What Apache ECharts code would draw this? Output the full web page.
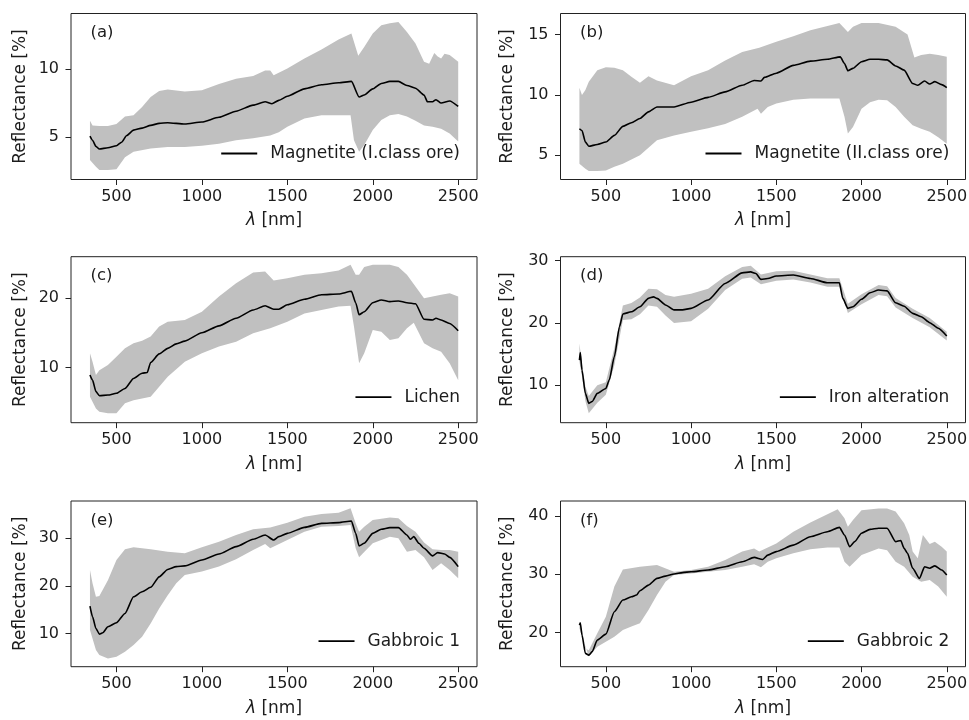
<!DOCTYPE html>
<html><head><meta charset="utf-8">
<script src="https://cdn.jsdelivr.net/npm/echarts@6/dist/echarts.min.js"></script>
<style>html,body{margin:0;padding:0;background:#fff}#c{width:969px;height:720px}</style>
</head><body><div id="c"></div>
<script>
// ---------- DATA ----------
const xTicks = [500, 1000, 1500, 2000, 2500];
const panelLetters = ['(a)', '(b)', '(c)', '(d)', '(e)', '(f)'];
const seriesNames = ['Magnetite (I.class ore)', 'Magnetite (II.class ore)', 'Lichen', 'Iron alteration', 'Gabbroic 1', 'Gabbroic 2'];
const yTicksA = [5, 10], yTicksB = [5, 10, 15], yTicksC = [10, 20], yTicksD = [10, 20, 30], yTicksE = [10, 20, 30], yTicksF = [20, 30, 40];
const yRangeA = [1.85, 14.12], yRangeB = [3.0, 16.74], yRangeC = [2.0, 26.0], yRangeD = [4.0, 30.64], yRangeE = [3.0, 37.85], yRangeF = [14.17, 42.57];
const xRange = [234, 2610];

// (a) Magnetite (I.class ore)
const wlMeanA = [345,360,380,400,450,500,530,560,600,650,700,750,800,900,1000,1100,1200,1300,1370,1410,1450,1500,1600,1700,1800,1875,1920,1950,2000,2050,2100,2150,2200,2250,2300,2320,2350,2370,2400,2450,2500];
const meanA = [5.05,4.75,4.3,4.1,4.2,4.35,4.6,5.1,5.5,5.65,5.85,6.0,6.05,5.95,6.1,6.45,6.9,7.35,7.6,7.45,7.7,8.0,8.55,8.85,9.0,9.1,7.95,8.1,8.55,8.95,9.1,9.1,8.8,8.6,8.1,7.6,7.6,7.75,7.5,7.65,7.25];
const wlUpA = [345,360,400,450,500,550,600,650,700,750,800,900,1000,1100,1200,1300,1370,1400,1420,1500,1600,1700,1800,1875,1915,1950,2000,2050,2100,2150,2200,2250,2300,2330,2360,2380,2400,2420,2450,2500];
const upA = [6.2,5.85,5.8,5.8,5.95,6.5,6.6,7.2,7.95,8.4,8.5,8.35,8.45,8.9,9.3,9.5,9.9,9.9,9.55,10.05,10.8,11.45,12.2,12.65,11.0,11.65,12.65,13.25,13.4,13.5,12.75,11.9,10.55,10.4,11.2,10.95,10.8,11.15,11.05,10.55];
const wlLoA = [345,380,400,450,500,550,600,700,800,900,1000,1100,1200,1300,1400,1450,1500,1600,1700,1800,1870,1890,1920,1950,2000,2050,2100,2150,2200,2250,2300,2350,2400,2450,2500];
const loA = [3.3,2.8,2.55,2.55,2.6,3.5,3.9,4.15,4.25,4.25,4.35,4.5,4.75,4.9,5.1,5.35,5.75,6.35,6.6,6.6,6.6,4.75,3.9,4.4,5.5,6.25,6.6,6.7,6.5,6.2,5.85,5.75,5.6,5.25,4.65];

// (b) Magnetite (II.class ore)
const wlMeanB = [345,360,380,400,450,500,550,600,650,700,750,800,900,1000,1100,1200,1300,1370,1410,1430,1500,1600,1700,1800,1875,1900,1920,1950,2000,2050,2100,2150,2200,2250,2300,2330,2370,2400,2430,2470,2500];
const meanB = [7.2,7.05,6.1,5.75,5.9,6.1,6.65,7.4,7.7,8.05,8.6,9.0,9.0,9.4,9.8,10.25,10.8,11.2,11.15,11.45,11.8,12.45,12.8,12.95,13.15,12.6,12.0,12.2,12.75,12.95,12.95,12.9,12.4,12.05,10.95,10.8,11.15,10.9,11.1,10.85,10.6];
const wlUpB = [345,360,380,400,450,500,550,600,650,700,750,800,900,1000,1100,1200,1300,1400,1500,1600,1700,1800,1870,1920,1950,2000,2100,2200,2270,2310,2350,2400,2450,2500];
const upB = [10.6,10.0,10.4,11.1,12.05,12.3,12.25,12.05,11.5,11.0,11.55,11.2,10.8,11.55,12.05,12.85,13.55,13.9,14.4,14.85,15.35,15.7,15.95,15.2,15.65,15.95,15.95,15.65,15.0,13.1,13.3,13.4,13.3,13.15];
const wlLoB = [345,380,400,450,500,550,600,700,800,900,1000,1100,1200,1300,1390,1410,1450,1500,1600,1700,1800,1870,1900,1920,1950,2000,2050,2100,2150,2200,2250,2300,2350,2400,2450,2500];
const loB = [4.3,3.9,3.7,3.7,3.75,4.05,4.3,5.0,6.25,6.65,6.95,7.25,7.6,8.2,8.85,8.45,9.0,9.3,9.6,9.7,9.7,9.7,8.2,6.8,7.35,8.85,9.4,9.6,9.55,9.0,8.2,7.5,7.2,6.95,6.5,5.95];

// (c) Lichen
const wlMeanC = [345,360,380,400,450,500,550,600,650,680,700,750,800,850,900,1000,1100,1200,1300,1370,1420,1450,1500,1600,1700,1800,1875,1900,1920,1950,2000,2050,2100,2150,2200,2250,2300,2350,2370,2400,2450,2500];
const meanC = [8.9,8.15,6.5,5.9,6.0,6.25,6.95,8.4,9.15,9.25,10.7,11.95,12.75,13.4,13.8,15.0,16.0,17.1,18.3,18.9,18.4,18.4,19.05,19.85,20.5,20.6,21.0,19.35,17.6,18.05,19.35,19.75,19.5,19.6,19.35,19.2,16.95,16.85,17.1,16.85,16.35,15.3];
const wlUpC = [345,360,380,400,450,500,550,600,650,700,750,800,900,1000,1100,1200,1300,1370,1420,1500,1600,1700,1800,1870,1900,1920,1950,2000,2100,2150,2200,2250,2300,2350,2400,2450,2500];
const upC = [12.05,10.8,8.9,9.6,10.35,11.55,12.75,13.5,13.85,14.45,15.9,16.6,16.85,18.05,20.25,22.15,23.7,23.85,22.55,22.9,23.4,23.6,24.0,24.85,23.4,23.4,24.5,24.85,24.85,24.5,23.4,21.7,20.0,20.25,20.5,20.7,20.25];
const wlLoC = [345,380,400,450,500,550,600,700,800,900,1000,1100,1200,1300,1400,1500,1600,1700,1800,1870,1890,1920,1950,2000,2050,2100,2150,2200,2240,2300,2350,2400,2450,2500];
const loC = [5.75,4.05,3.6,3.35,3.35,4.8,5.25,5.75,8.65,10.8,12.05,13.0,13.7,14.95,15.65,16.6,17.8,18.3,18.8,18.9,15.9,10.6,12.05,15.4,15.15,13.95,14.2,15.65,16.45,13.5,12.75,12.25,10.6,8.15];

// (d) Iron alteration
const wlMeanD = [345,350,360,380,400,420,450,500,520,550,580,600,650,700,750,780,800,850,900,950,1000,1100,1200,1300,1350,1380,1410,1450,1500,1600,1700,1800,1870,1890,1920,1950,2000,2050,2100,2150,2200,2250,2300,2350,2400,2450,2500];
const meanD = [14.05,15.25,12.45,8.7,7.1,7.4,8.7,9.5,10.85,14.6,19.4,21.45,21.8,22.6,23.95,24.2,23.95,22.9,22.1,22.1,22.35,23.7,26.35,28.05,28.2,27.95,27.0,27.15,27.55,27.7,27.15,26.45,26.45,23.95,22.35,22.6,23.8,24.85,25.3,25.15,23.25,22.7,21.55,21.0,20.05,19.15,17.9];
const wlUpD = [345,360,380,400,450,500,550,600,650,700,750,800,850,900,1000,1100,1200,1300,1350,1410,1500,1600,1700,1800,1870,1920,2000,2100,2150,2200,2300,2400,2500];
const upD = [16.7,13.5,9.8,8.3,10.0,10.5,16.0,22.8,23.2,24.1,25.5,25.4,24.5,24.2,24.7,25.5,27.5,29.0,29.2,27.8,28.3,28.4,27.8,27.2,27.2,23.1,24.6,26.1,25.9,24.0,22.3,20.8,18.6];
const wlLoD = wlUpD;
const loD = [13.8,11.5,7.5,5.5,7.2,8.5,13.2,20.5,20.6,21.4,22.8,22.6,21.2,20.0,20.3,22.3,25.3,27.1,27.3,26.2,26.8,27.0,26.5,25.8,25.8,21.6,23.0,24.5,24.3,22.5,20.8,19.3,17.2];

// (e) Gabbroic 1
const wlMeanE = [345,360,380,400,420,450,500,550,600,650,700,750,800,850,900,1000,1100,1200,1300,1370,1420,1450,1500,1600,1700,1800,1875,1900,1920,1950,2000,2050,2100,2150,2200,2220,2240,2270,2300,2350,2380,2420,2450,2500];
const meanE = [15.75,13.5,11.05,9.85,10.15,11.4,12.25,14.2,17.7,18.75,19.7,21.9,23.45,24.05,24.2,25.45,26.7,28.25,29.8,30.7,29.65,30.35,31.05,32.3,33.15,33.3,33.65,31.05,28.4,28.95,31.05,31.9,32.25,32.25,30.7,29.8,30.35,28.95,27.9,26.3,27.0,26.7,26.0,24.05];
const wlUpE = [345,360,380,400,450,500,550,600,700,800,900,1000,1100,1200,1300,1400,1500,1600,1700,1800,1870,1900,1920,1950,2000,2100,2150,2200,2250,2300,2350,2400,2450,2500];
const upE = [23.35,20.55,17.7,17.85,21.2,25.45,27.7,28.1,27.7,27.2,26.85,28.1,29.3,30.7,31.9,32.3,33.3,34.55,35.1,35.4,36.3,33.15,31.4,32.45,33.85,34.4,34.2,32.6,31.4,29.1,27.7,27.55,27.55,27.2];
const wlLoE = [345,380,400,450,500,550,600,650,700,750,800,850,900,1000,1100,1200,1300,1370,1400,1500,1600,1700,1800,1870,1900,1920,2000,2100,2150,2200,2250,2300,2350,2400,2450,2500];
const loE = [10.7,6.5,5.45,4.75,5.1,6.15,7.55,9.3,12.1,15.25,18.05,20.55,22.3,23.0,24.05,25.6,27.55,28.8,27.9,29.65,31.4,32.45,32.6,32.8,27.9,26.0,28.95,30.35,30.0,27.2,27.55,26.0,23.35,24.75,23.35,21.6];

// (f) Gabbroic 2
const wlMeanF = [345,350,360,380,400,420,450,500,550,600,650,680,700,750,800,850,900,950,1000,1100,1200,1300,1370,1420,1450,1500,1600,1700,1800,1870,1900,1930,1960,2000,2050,2100,2150,2200,2230,2250,2270,2300,2340,2370,2400,2430,2470,2500];
const meanF = [21.3,21.7,19.6,16.45,16.15,16.75,18.75,19.75,23.6,25.6,26.15,26.45,27.2,28.15,29.3,29.7,30.05,30.3,30.45,30.75,31.3,32.15,32.9,32.55,33.3,33.9,35.0,36.45,37.3,38.05,36.75,34.75,35.6,37.05,37.7,37.9,37.9,35.6,35.8,34.45,33.6,31.05,29.3,31.3,31.05,31.45,30.75,29.9];
const wlUpF = [345,360,380,400,450,500,550,600,700,800,900,1000,1100,1200,1300,1370,1400,1500,1600,1700,1800,1860,1900,1920,1950,2000,2100,2150,2200,2250,2280,2300,2330,2360,2400,2430,2470,2500];
const upF = [21.9,20.45,17.3,17.0,19.9,22.75,27.9,30.85,31.3,31.6,30.45,30.75,31.3,32.45,33.9,34.45,33.9,35.3,37.3,38.9,40.3,41.15,39.6,38.15,39.3,41.0,41.3,41.3,40.75,38.75,36.75,33.9,32.75,36.75,35.2,35.6,34.75,33.9];
const wlLoF = [345,400,450,500,550,600,650,700,750,800,850,900,1000,1100,1200,1300,1370,1410,1450,1500,1600,1700,1800,1870,1900,1930,2000,2100,2150,2200,2250,2300,2350,2400,2450,2500];
const loF = [20.75,15.9,17.6,18.45,19.3,20.45,21.05,21.6,23.9,26.45,28.75,29.9,30.15,30.45,30.75,31.3,31.75,31.2,32.15,32.75,33.6,34.3,34.6,34.6,32.15,31.3,33.3,34.45,34.15,32.15,31.3,29.6,28.75,29.05,27.9,26.15];

// ---------- CHART ----------
const panels = [
  {wlMean: wlMeanA, mean: meanA, wlUp: wlUpA, up: upA, wlLo: wlLoA, lo: loA, yTicks: yTicksA, yRange: yRangeA},
  {wlMean: wlMeanB, mean: meanB, wlUp: wlUpB, up: upB, wlLo: wlLoB, lo: loB, yTicks: yTicksB, yRange: yRangeB},
  {wlMean: wlMeanC, mean: meanC, wlUp: wlUpC, up: upC, wlLo: wlLoC, lo: loC, yTicks: yTicksC, yRange: yRangeC},
  {wlMean: wlMeanD, mean: meanD, wlUp: wlUpD, up: upD, wlLo: wlLoD, lo: loD, yTicks: yTicksD, yRange: yRangeD},
  {wlMean: wlMeanE, mean: meanE, wlUp: wlUpE, up: upE, wlLo: wlLoE, lo: loE, yTicks: yTicksE, yRange: yRangeE},
  {wlMean: wlMeanF, mean: meanF, wlUp: wlUpF, up: upF, wlLo: wlLoF, lo: loF, yTicks: yTicksF, yRange: yRangeF}
];

const FONT = 'DejaVu Sans';
const TXT = '#1c1c1c';
const cols = [
  {left: 71, width: 406, yNameGap: 42, legendRight: 509, letterLeft: 90.5},
  {left: 560.5, width: 405, yNameGap: 44, legendRight: 19.7, letterLeft: 580}
];
const rows = [
  {top: 13.5, height: 166, legendMid: 154},
  {top: 256.7, height: 166, legendMid: 397.7},
  {top: 501, height: 165.7, legendMid: 641.7}
];

const zip = (xs, ys) => xs.map((x, i) => [x, ys[i]]);
const plain = v => String(v);

const grid = [], xAxis = [], yAxis = [], series = [], legend = [], title = [];
panels.forEach((p, i) => {
  const c = cols[i % 2], r = rows[Math.floor(i / 2)];
  grid.push({left: c.left, top: r.top, width: c.width, height: r.height, show: true,
    borderColor: '#222', borderWidth: 1, backgroundColor: 'transparent', outerBoundsMode: 'none'});
  xAxis.push({
    gridIndex: i, type: 'value', min: xRange[0], max: xRange[1],
    axisLine: {show: false},
    axisTick: {show: true, length: 5.5, customValues: xTicks, lineStyle: {color: '#222', width: 1}},
    axisLabel: {customValues: xTicks, formatter: plain, fontSize: 16, fontFamily: FONT, color: TXT, margin: 9},
    splitLine: {show: false},
    name: '{i|λ} [nm]', nameLocation: 'middle', nameGap: 33,
    nameTextStyle: {fontSize: 17, fontFamily: FONT, color: TXT,
      rich: {i: {fontStyle: 'italic', fontSize: 17, fontFamily: FONT, color: TXT}}}
  });
  yAxis.push({
    gridIndex: i, type: 'value', min: p.yRange[0], max: p.yRange[1],
    axisLine: {show: false},
    axisTick: {show: true, length: 5.5, customValues: p.yTicks, lineStyle: {color: '#222', width: 1}},
    axisLabel: {customValues: p.yTicks, formatter: plain, fontSize: 16, fontFamily: FONT, color: TXT, margin: 12},
    splitLine: {show: false},
    name: 'Reflectance [%]', nameLocation: 'middle', nameGap: c.yNameGap, nameRotate: 90,
    nameTextStyle: {fontSize: 17, fontFamily: FONT, color: TXT}
  });
  series.push({
    type: 'custom', name: 'band' + i, xAxisIndex: i, yAxisIndex: i, silent: true, z: 1,
    data: [[p.wlUp[0], p.up[0]]], encode: {x: 0, y: 1},
    renderItem: function (params, api) {
      const pts = [];
      for (let k = 0; k < p.wlUp.length; k++) pts.push(api.coord([p.wlUp[k], p.up[k]]));
      for (let k = p.wlLo.length - 1; k >= 0; k--) pts.push(api.coord([p.wlLo[k], p.lo[k]]));
      return {type: 'polygon', shape: {points: pts}, style: {fill: '#c0c0c0', stroke: null}};
    }
  });
  series.push({
    type: 'line', name: seriesNames[i], xAxisIndex: i, yAxisIndex: i, z: 3,
    data: zip(p.wlMean, p.mean), symbol: 'none', smooth: 0.2, smoothMonotone: 'x',
    lineStyle: {color: '#000', width: 1.6}, itemStyle: {color: '#000'}, silent: true
  });
  legend.push({
    data: [seriesNames[i]], right: c.legendRight, top: r.legendMid - 9, padding: 0,
    icon: 'rect', itemWidth: 36, itemHeight: 1.8, selectedMode: false,
    itemStyle: {color: '#000', borderWidth: 0},
    textStyle: {fontSize: 17, fontFamily: FONT, color: TXT, padding: [0, 0, 0, 8]}
  });
  title.push({
    text: panelLetters[i], left: c.letterLeft, top: r.top + 11, padding: 0,
    textStyle: {fontSize: 16.5, fontWeight: 'normal', fontFamily: FONT, color: TXT}
  });
});

const chart = echarts.init(document.getElementById('c'), null, {renderer: 'canvas'});
chart.setOption({
  animation: false, backgroundColor: '#fff',
  grid, xAxis, yAxis, series, legend, title
});
</script></body></html>
